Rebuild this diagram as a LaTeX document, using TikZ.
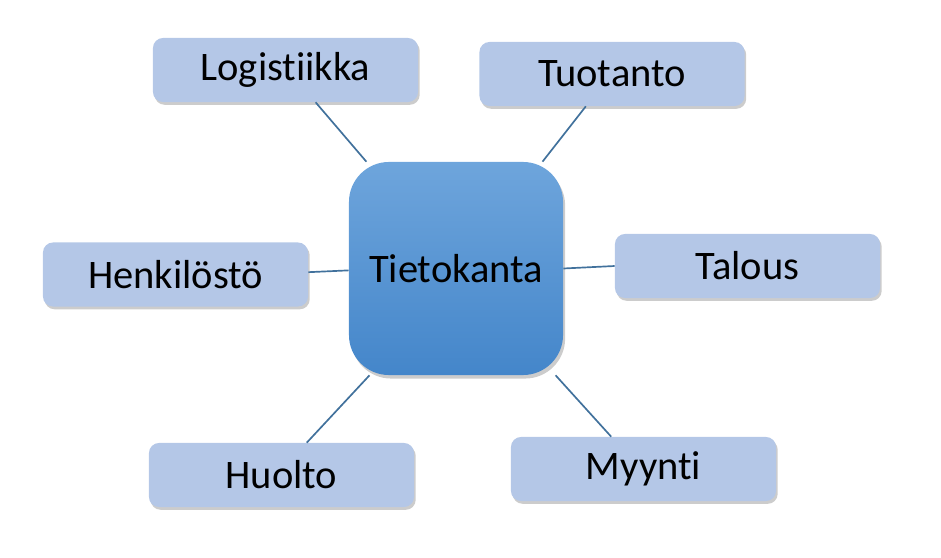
\documentclass[tikz,border=0pt]{standalone}
\usepackage{fontspec}
\setmainfont{Carlito}[Ligatures={NoCommon}]
\usepackage{xcolor}
\usetikzlibrary{shadows}
\definecolor{osa}{HTML}{B4C7E7}
\definecolor{kantayla}{HTML}{6EA5DC}
\definecolor{kantaala}{HTML}{4486CA}
\definecolor{viiva}{HTML}{41719C}

\begin{document}
\begin{tikzpicture}[x=0.025cm, y=-0.025cm,
        osa/.style={draw=none, fill=osa, rounded corners=0.25cm, minimum width=6.625cm, minimum height=1.6cm,
            font=\fontsize{28.8}{32}\selectfont, drop shadow={shadow xshift=1.2pt, shadow yshift=-2pt, opacity=0.4}},
        yhteys/.style={viiva, line width=1.2pt}]
            \useasboundingbox (0, 0) rectangle (941, 558);

            \node[draw=none, top color=kantayla, bottom color=kantaala, rounded corners=1cm,
                minimum width=5.35cm, minimum height=5.325cm, font=\fontsize{28.8}{32}\selectfont,
                drop shadow={shadow xshift=1.5pt, shadow yshift=-2.5pt, opacity=0.4}]
                (kanta) at (456, 268.5) {Tietokanta};

            \node[osa] (logistiikka) at (285.5, 70) {Logistiikka};
            \node[osa] (tuotanto) at (612, 74) {Tuotanto};
            \node[osa] (henkilosto) at (175.5, 274.5) {Henkilöstö};
            \node[osa] (talous) at (747.5, 266) {Talous};
            \node[osa] (huolto) at (281.5, 475) {Huolto};
            \node[osa] (myynti) at (643.5, 469) {Myynti};

            \draw[yhteys] (logistiikka.-47) -- (kanta.130.6);
            \draw[yhteys] (tuotanto.-129.3) -- (kanta.51.9);
            \draw[yhteys] (henkilosto.1.5) -- (kanta.181);
            \draw[yhteys] (talous.west) -- (kanta.east);
            \draw[yhteys] (huolto.52) -- (kanta.-129.7);
            \draw[yhteys] (myynti.135.4) -- (kanta.-47.3);
        \end{tikzpicture}
\end{document}
